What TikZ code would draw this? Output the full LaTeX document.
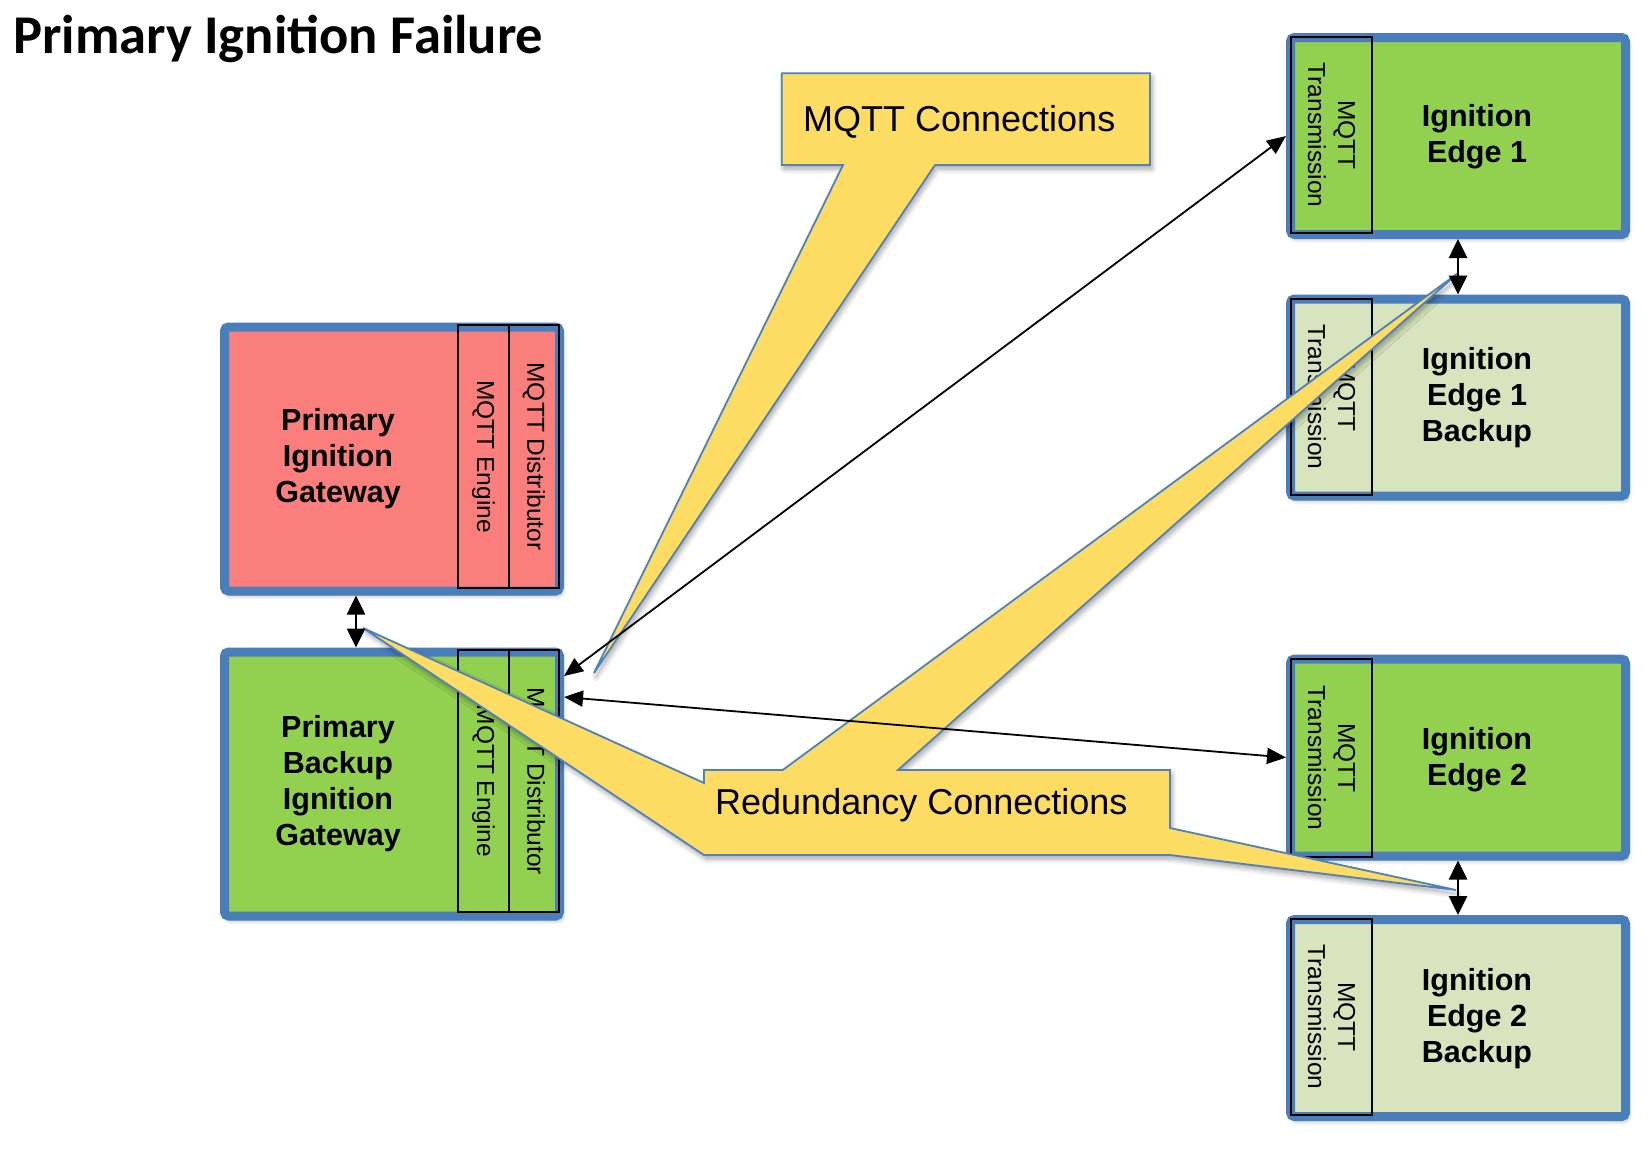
\documentclass[tikz,border=0pt]{standalone}
\usepackage{fontspec}
\setmainfont{Liberation Sans}
\newfontfamily\titlefont{Carlito}
\usetikzlibrary{arrows.meta,shadows.blur,calc}
\definecolor{bordblue}{HTML}{4A7EBB}
\definecolor{redfill}{HTML}{FA7F7C}
\definecolor{greenfill}{HTML}{92D050}
\definecolor{lightgreen}{HTML}{D7E4BD}
\definecolor{callyellow}{HTML}{FDDC64}
\definecolor{callblue}{HTML}{4F81BD}
\begin{document}
\begin{tikzpicture}[x=1pt,y=-1pt,
  softshadow/.style={blur shadow={shadow xshift=2pt, shadow yshift=-4pt, shadow blur radius=5pt, shadow blur steps=6, shadow opacity=35}},
  sysbox/.style={draw=bordblue, line width=9pt, rounded corners=4pt, minimum width=335pt, inner sep=0pt, softshadow},
  gwbox/.style={sysbox, minimum height=264pt},
  edgebox/.style={sysbox, minimum height=197pt},
  colbox/.style={draw=black, line width=1.8pt, inner sep=0pt, rotate=-90, align=center, font=\fontsize{24.5}{30}\selectfont},
  mainlabel/.style={font=\fontsize{30.5}{36}\selectfont\bfseries, align=center, inner sep=0pt},
  callout/.style={fill=callyellow, draw=callblue, line width=1.8pt, line join=miter, softshadow},
  calltext/.style={font=\fontsize{36}{40}\selectfont, anchor=base west, inner sep=0pt},
  link/.style={draw=black, line width=1.8pt, {Triangle[length=19pt,width=16pt]}-{Triangle[length=19pt,width=16pt]}},
  vlink/.style={draw=black, line width=2.6pt, {Triangle[length=19pt,width=18pt]}-{Triangle[length=19pt,width=18pt]}},
]
\useasboundingbox (0,0) rectangle (1650,1154);

% title
\node[anchor=base west, inner sep=0pt, font=\titlefont\bfseries\fontsize{54.6}{60}\selectfont] (title) at (13,53) {Primary Ignition Failure};

% gateway boxes
\node[gwbox, fill=redfill] (pri) at (392,459) {};
\node[gwbox, fill=greenfill] (bak) at (392,784) {};
\node[colbox, minimum width=263pt, minimum height=51pt] (pe) at (483.5,456.5) {MQTT Engine};
\node[colbox, minimum width=263pt, minimum height=50pt] (pd) at (534,456.5) {MQTT Distributor};
\node[colbox, minimum width=262pt, minimum height=51pt] (be) at (483.5,781) {MQTT Engine};
\node[colbox, minimum width=262pt, minimum height=50pt] (bd) at (534,781) {MQTT Distributor};
\node[mainlabel] (pritxt) at (338,459) {Primary\\Ignition\\Gateway};
\node[mainlabel] (baktxt) at (338,784) {Primary\\Backup\\Ignition\\Gateway};

% edge boxes
\node[edgebox, fill=greenfill] (e1) at (1458,136) {};
\node[edgebox, fill=lightgreen] (e1b) at (1458,397.5) {};
\node[edgebox, fill=greenfill] (e2) at (1458,757.5) {};
\node[edgebox, fill=lightgreen] (e2b) at (1458,1018) {};
\node[colbox, minimum width=196pt, minimum height=81pt] (t1) at (1331.5,135) {MQTT\\Transmission};
\node[colbox, minimum width=196pt, minimum height=81pt] (t1b) at (1331.5,397) {MQTT\\Transmission};
\node[colbox, minimum width=198pt, minimum height=81pt] (t2) at (1331.5,758) {MQTT\\Transmission};
\node[colbox, minimum width=196pt, minimum height=81pt] (t2b) at (1331.5,1017) {MQTT\\Transmission};
\node[mainlabel] (e1txt) at (1477,136.5) {Ignition\\Edge 1};
\node[mainlabel] (e1btxt) at (1477,398) {Ignition\\Edge 1\\Backup};
\node[mainlabel] (e2txt) at (1477,759.5) {Ignition\\Edge 2};
\node[mainlabel] (e2btxt) at (1477,1019) {Ignition\\Edge 2\\Backup};

% callouts
\coordinate (mqtip) at (594,673);
\coordinate (rtipL) at (363,628);
\coordinate (rtipU) at (1458,273);
\coordinate (rtipR) at (1456,890);
\path[callout] (781.7,73.3) -- (1150,73.3) -- (1150,165) -- (935,165) -- (mqtip) -- (843,165) -- (781.7,165) -- cycle;
\path[callout] (704,770) -- (782.7,770) -- (rtipU) -- (898,770) -- (1170,770) -- (1170,828) -- (rtipR) -- (1170,855) -- (704,855) -- (rtipL) -- (704,783) -- cycle;
\node[calltext] (mqtxt) at (803,131.7) {MQTT Connections};
\node[calltext] (rdtxt) at (715,814) {Redundancy Connections};

% connectors
\draw[link] ([yshift=108pt]bak.east) -- (e1.west);
\draw[link] ([yshift=87pt]bak.east) -- (e2.west);
\draw[vlink] ([xshift=-36pt]pri.south) -- ([xshift=-36pt]bak.north);
\draw[vlink] (e1.south) -- (e1b.north);
\draw[vlink] (e2.south) -- (e2b.north);
\end{tikzpicture}
\end{document}
